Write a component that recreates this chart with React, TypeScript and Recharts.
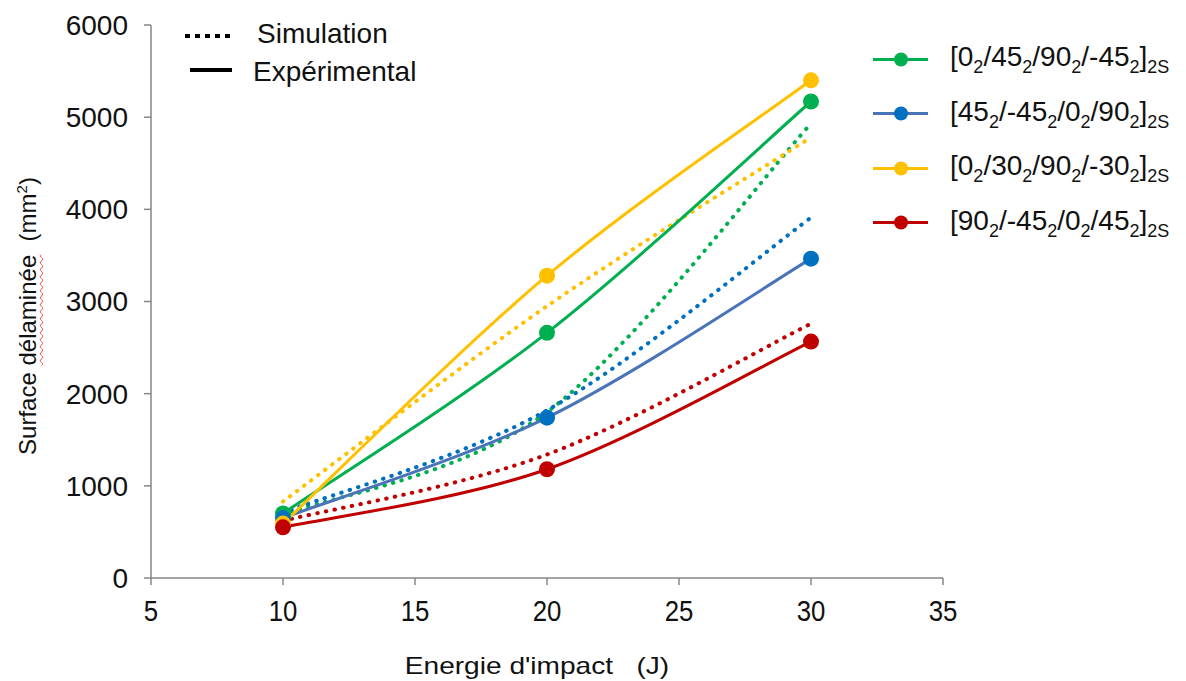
import { CartesianGrid, Line, LineChart, XAxis, YAxis } from "recharts";

// Energie d'impact (J)
const energies = [10, 20, 30];

// Expérimental (lignes pleines avec points)
const exp0_45 = [700, 2660, 5170];
const exp45_m45 = [650, 1740, 3465];
const exp0_30 = [590, 3280, 5400];
const exp90_m45 = [550, 1180, 2565];

// Simulation (pointillés)
const sim0_45 = [690, 1800, 4930];
const sim45_m45 = [710, 1820, 3910];
const sim0_30 = [830, 2950, 4780];
const sim90_m45 = [620, 1340, 2760];

const xTicks = [5, 10, 15, 20, 25, 30, 35];
const yTicks = [0, 1000, 2000, 3000, 4000, 5000, 6000];

const GREEN = "#00B050";
const BLUE_LINE = "#4A74B8";
const BLUE = "#0070C0";
const YELLOW = "#FFC000";
const RED = "#C00000";

const FONT = "'Liberation Sans', Arial, sans-serif";

const legendRows = [
  { color: GREEN, line: GREEN, parts: ["[0", "2", "/45", "2", "/90", "2", "/-45", "2", "]", "2S"] },
  { color: BLUE, line: BLUE_LINE, parts: ["[45", "2", "/-45", "2", "/0", "2", "/90", "2", "]", "2S"] },
  { color: YELLOW, line: YELLOW, parts: ["[0", "2", "/30", "2", "/90", "2", "/-30", "2", "]", "2S"] },
  { color: RED, line: RED, parts: ["[90", "2", "/-45", "2", "/0", "2", "/45", "2", "]", "2S"] },
];

const data = energies.map((energie, i) => ({
  energie,
  exp0_45: exp0_45[i],
  exp45_m45: exp45_m45[i],
  exp0_30: exp0_30[i],
  exp90_m45: exp90_m45[i],
  sim0_45: sim0_45[i],
  sim45_m45: sim45_m45[i],
  sim0_30: sim0_30[i],
  sim90_m45: sim90_m45[i],
}));

// lissage façon Excel (Bézier, tangentes à 1/6)
function excelSmooth(context: any) {
  let pts: number[][] = [];
  return {
    areaStart() {},
    areaEnd() {},
    lineStart() {
      pts = [];
    },
    point(x: number, y: number) {
      pts.push([+x, +y]);
    },
    lineEnd() {
      const n = pts.length;
      if (!n) return;
      context.moveTo(pts[0][0], pts[0][1]);
      for (let i = 0; i < n - 1; i++) {
        const p0 = pts[Math.max(i - 1, 0)];
        const p1 = pts[i];
        const p2 = pts[i + 1];
        const p3 = pts[Math.min(i + 2, n - 1)];
        context.bezierCurveTo(
          p1[0] + (p2[0] - p0[0]) / 6,
          p1[1] + (p2[1] - p0[1]) / 6,
          p2[0] - (p3[0] - p1[0]) / 6,
          p2[1] - (p3[1] - p1[1]) / 6,
          p2[0],
          p2[1]
        );
      }
    },
  };
}

const dotted = { strokeWidth: 4, strokeDasharray: "0.5 8.3", strokeLinecap: "round" as const };

const XTick = (props: any) => {
  const { x, y, payload } = props;
  return (
    <text
      transform={`translate(${x},${y}) scale(0.86,1)`}
      textAnchor="middle"
      dy="0.71em"
      fontSize={30}
      fill="#111"
      fontFamily={FONT}
    >
      {payload.value}
    </text>
  );
};

export default function App() {
  return (
    <div style={{ position: "absolute", left: 0, top: 0, width: 1186, height: 681, background: "#fff", fontFamily: FONT }}>
      <LineChart width={1186} height={681} data={data} margin={{ top: 25, right: 243, bottom: 63, left: 51 }}>
        <CartesianGrid stroke="none" />
        <XAxis
          dataKey="energie"
          type="number"
          domain={[5, 35]}
          ticks={xTicks}
          height={40}
          tickSize={7}
          tickMargin={15}
          stroke="#868686"
          strokeWidth={1.5}
          tick={<XTick />}
        />
        <YAxis
          type="number"
          domain={[0, 6000]}
          ticks={yTicks}
          width={100}
          tickSize={7}
          tickMargin={16}
          stroke="#868686"
          strokeWidth={1.5}
          tick={{ fill: "#111", fontSize: 28, fontFamily: FONT }}
        />
        <Line dataKey="sim0_45" stroke={GREEN} {...dotted} dot={false} activeDot={false} type={excelSmooth as any} isAnimationActive={false} />
        <Line dataKey="sim45_m45" stroke={BLUE} {...dotted} dot={false} activeDot={false} type={excelSmooth as any} isAnimationActive={false} />
        <Line dataKey="sim0_30" stroke={YELLOW} {...dotted} dot={false} activeDot={false} type={excelSmooth as any} isAnimationActive={false} />
        <Line dataKey="sim90_m45" stroke={RED} {...dotted} dot={false} activeDot={false} type={excelSmooth as any} isAnimationActive={false} />
        <Line dataKey="exp0_45" stroke={GREEN} strokeWidth={3} dot={{ r: 8, fill: GREEN, stroke: "none" }} activeDot={false} type={excelSmooth as any} isAnimationActive={false} />
        <Line dataKey="exp45_m45" stroke={BLUE_LINE} strokeWidth={3} dot={{ r: 8, fill: BLUE, stroke: "none" }} activeDot={false} type={excelSmooth as any} isAnimationActive={false} />
        <Line dataKey="exp0_30" stroke={YELLOW} strokeWidth={3} dot={{ r: 8, fill: YELLOW, stroke: "none" }} activeDot={false} type={excelSmooth as any} isAnimationActive={false} />
        <Line dataKey="exp90_m45" stroke={RED} strokeWidth={3} dot={{ r: 8, fill: RED, stroke: "none" }} activeDot={false} type={excelSmooth as any} isAnimationActive={false} />
      </LineChart>

      {/* titre axe Y */}
      <div
        style={{
          position: "absolute",
          left: 27,
          top: 316,
          transform: "translate(-50%, -50%) rotate(-90deg)",
          whiteSpace: "pre",
          fontSize: 24,
          color: "#111",
        }}
      >
        Surface{" "}
        <span style={{ textDecoration: "underline wavy #ff4040", textDecorationThickness: 1, textUnderlineOffset: 3 }}>délaminée</span>
        {"  (mm"}
        <sup style={{ fontSize: 15 }}>2</sup>)
      </div>

      {/* titre axe X */}
      <div
        style={{
          position: "absolute",
          left: 537,
          top: 666,
          transform: "translate(-50%, -50%) scaleX(1.17)",
          whiteSpace: "pre",
          fontSize: 24,
          color: "#111",
        }}
      >
        {"Energie d'impact   (J)"}
      </div>

      {/* légende type */}
      <svg style={{ position: "absolute", left: 180, top: 25 }} width={60} height={60}>
        <line x1={5} x2={52} y1={11} y2={11} stroke="#000" strokeWidth={4} strokeDasharray="5 5" />
        <line x1={10} x2={52} y1={45} y2={45} stroke="#000" strokeWidth={4} />
      </svg>
      <div style={{ position: "absolute", left: 257, top: 34, transform: "translateY(-50%)", fontSize: 28, color: "#111" }}>Simulation</div>
      <div style={{ position: "absolute", left: 253, top: 72, transform: "translateY(-50%)", fontSize: 28, color: "#111" }}>Expérimental</div>

      {/* légende séries */}
      {legendRows.map((row, i) => (
        <div key={i} style={{ position: "absolute", left: 873, top: 59 + i * 54.5, transform: "translateY(-50%)", display: "flex", alignItems: "center" }}>
          <svg width={56} height={20}>
            <line x1={0} x2={55} y1={10} y2={10} stroke={row.line} strokeWidth={3} />
            <circle cx={28} cy={10} r={7} fill={row.color} />
          </svg>
          <span style={{ marginLeft: 21, fontSize: 28, color: "#111", whiteSpace: "pre" }}>
            {row.parts.map((p, j) =>
              j % 2 === 1 ? (
                <sub key={j} style={{ fontSize: 18, verticalAlign: "-7px" }}>{p}</sub>
              ) : (
                <span key={j}>{p}</span>
              )
            )}
          </span>
        </div>
      ))}
    </div>
  );
}
